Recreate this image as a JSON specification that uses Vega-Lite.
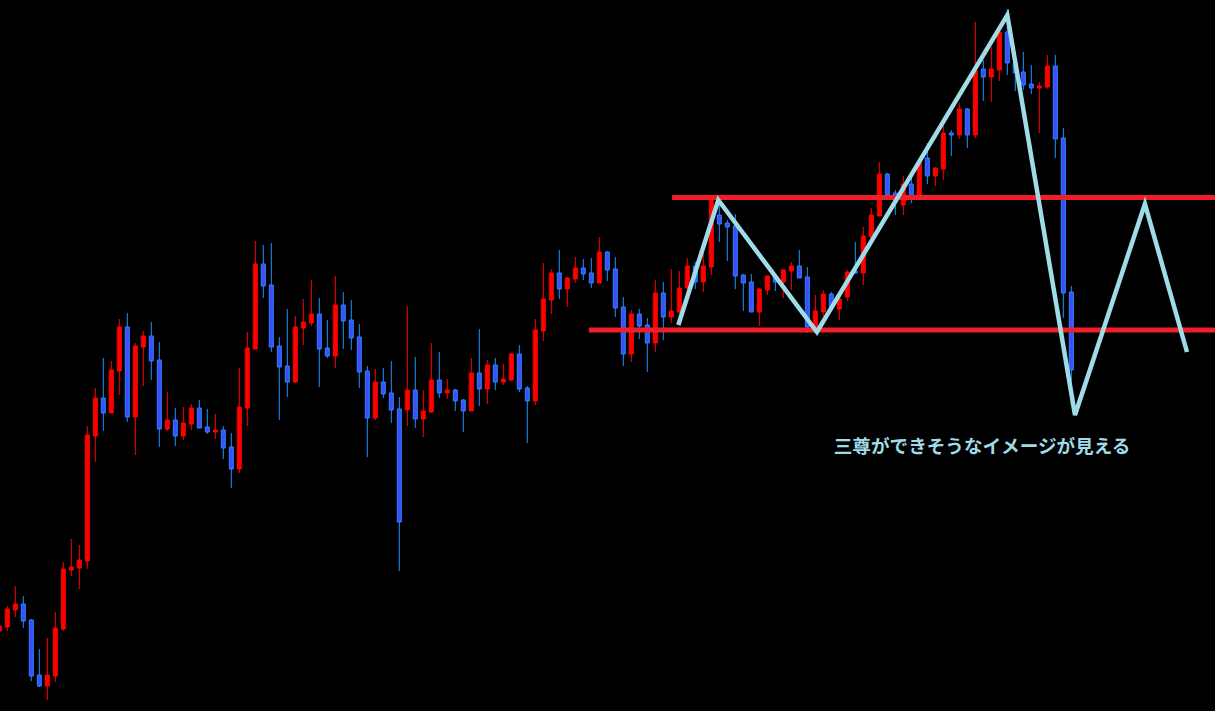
{
  "$schema": "https://vega.github.io/schema/vega-lite/v6.json",
  "width": 1215,
  "height": 711,
  "autosize": {"type": "none"},
  "padding": 0,
  "background": "#000000",
  "config": {"view": {"stroke": null}, "scale": {"continuousPadding": 0}},
  "datasets": {
    "candles": [
      {"i":0,"o":100.80,"h":100.89,"l":100.78,"c":100.85},
      {"i":1,"o":100.84,"h":101.05,"l":100.80,"c":101.02},
      {"i":2,"o":101.01,"h":101.25,"l":100.94,"c":101.07},
      {"i":3,"o":101.07,"h":101.15,"l":100.83,"c":100.90},
      {"i":4,"o":100.91,"h":100.92,"l":100.30,"c":100.35},
      {"i":5,"o":100.36,"h":100.62,"l":100.24,"c":100.25},
      {"i":6,"o":100.25,"h":100.73,"l":100.11,"c":100.36},
      {"i":7,"o":100.35,"h":100.99,"l":100.29,"c":100.83},
      {"i":8,"o":100.82,"h":101.49,"l":100.80,"c":101.42},
      {"i":9,"o":101.41,"h":101.72,"l":101.35,"c":101.44},
      {"i":10,"o":101.43,"h":101.66,"l":101.22,"c":101.51},
      {"i":11,"o":101.50,"h":102.85,"l":101.42,"c":102.76},
      {"i":12,"o":102.75,"h":103.23,"l":102.49,"c":103.13},
      {"i":13,"o":103.13,"h":103.53,"l":102.80,"c":102.98},
      {"i":14,"o":102.98,"h":103.50,"l":102.98,"c":103.41},
      {"i":15,"o":103.40,"h":103.92,"l":103.16,"c":103.84},
      {"i":16,"o":103.84,"h":103.98,"l":102.89,"c":102.94},
      {"i":17,"o":102.94,"h":103.68,"l":102.56,"c":103.65},
      {"i":18,"o":103.64,"h":103.80,"l":103.25,"c":103.75},
      {"i":19,"o":103.75,"h":103.89,"l":103.31,"c":103.50},
      {"i":20,"o":103.51,"h":103.69,"l":102.64,"c":102.82},
      {"i":21,"o":102.82,"h":103.19,"l":102.80,"c":102.91},
      {"i":22,"o":102.91,"h":103.03,"l":102.65,"c":102.75},
      {"i":23,"o":102.75,"h":103.04,"l":102.71,"c":102.88},
      {"i":24,"o":102.87,"h":103.07,"l":102.81,"c":103.03},
      {"i":25,"o":103.03,"h":103.11,"l":102.83,"c":102.83},
      {"i":26,"o":102.84,"h":103.02,"l":102.77,"c":102.79},
      {"i":27,"o":102.79,"h":102.97,"l":102.72,"c":102.81},
      {"i":28,"o":102.81,"h":102.85,"l":102.52,"c":102.63},
      {"i":29,"o":102.64,"h":102.78,"l":102.23,"c":102.42},
      {"i":30,"o":102.42,"h":103.43,"l":102.38,"c":103.04},
      {"i":31,"o":103.03,"h":103.79,"l":102.85,"c":103.63},
      {"i":32,"o":103.62,"h":104.70,"l":103.62,"c":104.47},
      {"i":33,"o":104.47,"h":104.66,"l":104.13,"c":104.25},
      {"i":34,"o":104.26,"h":104.68,"l":103.59,"c":103.64},
      {"i":35,"o":103.65,"h":103.74,"l":102.91,"c":103.44},
      {"i":36,"o":103.45,"h":104.02,"l":103.14,"c":103.29},
      {"i":37,"o":103.29,"h":103.95,"l":103.28,"c":103.84},
      {"i":38,"o":103.83,"h":104.12,"l":103.66,"c":103.89},
      {"i":39,"o":103.88,"h":104.31,"l":103.85,"c":103.97},
      {"i":40,"o":103.97,"h":104.13,"l":103.24,"c":103.62},
      {"i":41,"o":103.63,"h":103.91,"l":103.53,"c":103.55},
      {"i":42,"o":103.55,"h":104.35,"l":103.43,"c":104.06},
      {"i":43,"o":104.06,"h":104.19,"l":103.62,"c":103.90},
      {"i":44,"o":103.91,"h":104.11,"l":103.61,"c":103.73},
      {"i":45,"o":103.74,"h":103.87,"l":103.23,"c":103.39},
      {"i":46,"o":103.40,"h":103.45,"l":102.54,"c":102.93},
      {"i":47,"o":102.93,"h":103.42,"l":102.91,"c":103.29},
      {"i":48,"o":103.29,"h":103.43,"l":103.13,"c":103.17},
      {"i":49,"o":103.18,"h":103.50,"l":102.88,"c":103.01},
      {"i":50,"o":103.02,"h":103.14,"l":101.40,"c":101.89},
      {"i":51,"o":103.01,"h":104.05,"l":102.85,"c":103.21},
      {"i":52,"o":103.21,"h":103.54,"l":102.83,"c":102.92},
      {"i":53,"o":102.92,"h":103.21,"l":102.74,"c":103.00},
      {"i":54,"o":102.99,"h":103.68,"l":102.98,"c":103.31},
      {"i":55,"o":103.31,"h":103.59,"l":103.13,"c":103.18},
      {"i":56,"o":103.18,"h":103.32,"l":103.12,"c":103.21},
      {"i":57,"o":103.21,"h":103.22,"l":103.00,"c":103.10},
      {"i":58,"o":103.11,"h":103.12,"l":102.79,"c":103.00},
      {"i":59,"o":103.00,"h":103.53,"l":103.00,"c":103.38},
      {"i":60,"o":103.38,"h":103.82,"l":103.05,"c":103.22},
      {"i":61,"o":103.22,"h":103.51,"l":103.07,"c":103.46},
      {"i":62,"o":103.46,"h":103.53,"l":103.21,"c":103.29},
      {"i":63,"o":103.29,"h":103.47,"l":103.26,"c":103.32},
      {"i":64,"o":103.31,"h":103.58,"l":103.30,"c":103.57},
      {"i":65,"o":103.57,"h":103.66,"l":103.19,"c":103.22},
      {"i":66,"o":103.23,"h":103.25,"l":102.68,"c":103.10},
      {"i":67,"o":103.10,"h":103.92,"l":103.06,"c":103.81},
      {"i":68,"o":103.80,"h":104.48,"l":103.70,"c":104.12},
      {"i":69,"o":104.11,"h":104.42,"l":103.97,"c":104.38},
      {"i":70,"o":104.38,"h":104.61,"l":104.12,"c":104.22},
      {"i":71,"o":104.22,"h":104.34,"l":104.04,"c":104.33},
      {"i":72,"o":104.32,"h":104.54,"l":104.28,"c":104.43},
      {"i":73,"o":104.43,"h":104.52,"l":104.31,"c":104.37},
      {"i":74,"o":104.38,"h":104.53,"l":104.23,"c":104.28},
      {"i":75,"o":104.28,"h":104.74,"l":104.28,"c":104.59},
      {"i":76,"o":104.59,"h":104.60,"l":104.30,"c":104.41},
      {"i":77,"o":104.42,"h":104.54,"l":103.94,"c":104.03},
      {"i":78,"o":104.04,"h":104.14,"l":103.45,"c":103.57},
      {"i":79,"o":103.57,"h":104.01,"l":103.49,"c":103.97},
      {"i":80,"o":103.97,"h":104.02,"l":103.72,"c":103.85},
      {"i":81,"o":103.86,"h":103.93,"l":103.39,"c":103.68},
      {"i":82,"o":103.68,"h":104.31,"l":103.59,"c":104.18},
      {"i":83,"o":104.18,"h":104.29,"l":103.71,"c":103.94},
      {"i":84,"o":103.94,"h":104.42,"l":103.88,"c":104.00},
      {"i":85,"o":103.99,"h":104.40,"l":103.97,"c":104.23},
      {"i":86,"o":104.23,"h":104.53,"l":104.16,"c":104.45},
      {"i":87,"o":104.45,"h":104.49,"l":104.22,"c":104.29},
      {"i":88,"o":104.29,"h":104.59,"l":104.19,"c":104.45},
      {"i":89,"o":104.44,"h":105.13,"l":104.36,"c":105.11},
      {"i":90,"o":104.96,"h":105.11,"l":104.69,"c":104.87},
      {"i":91,"o":104.88,"h":104.91,"l":104.50,"c":104.84},
      {"i":92,"o":104.85,"h":104.97,"l":104.22,"c":104.35},
      {"i":93,"o":104.36,"h":104.37,"l":104.00,"c":104.28},
      {"i":94,"o":104.29,"h":104.37,"l":103.99,"c":103.99},
      {"i":95,"o":103.99,"h":104.23,"l":103.85,"c":104.22},
      {"i":96,"o":104.21,"h":104.35,"l":104.16,"c":104.35},
      {"i":97,"o":104.35,"h":104.37,"l":104.20,"c":104.29},
      {"i":98,"o":104.29,"h":104.42,"l":104.13,"c":104.41},
      {"i":99,"o":104.40,"h":104.49,"l":104.21,"c":104.45},
      {"i":100,"o":104.45,"h":104.61,"l":104.33,"c":104.33},
      {"i":101,"o":104.34,"h":104.44,"l":103.78,"c":103.84},
      {"i":102,"o":103.84,"h":104.16,"l":103.78,"c":104.00},
      {"i":103,"o":103.99,"h":104.21,"l":103.95,"c":104.17},
      {"i":104,"o":104.17,"h":104.19,"l":104.01,"c":104.04},
      {"i":105,"o":104.02,"h":104.15,"l":103.91,"c":104.12},
      {"i":106,"o":104.14,"h":104.41,"l":104.10,"c":104.39},
      {"i":107,"o":104.40,"h":104.69,"l":104.37,"c":104.38},
      {"i":108,"o":104.38,"h":104.84,"l":104.26,"c":104.75},
      {"i":109,"o":104.74,"h":105.03,"l":104.71,"c":104.96},
      {"i":110,"o":104.95,"h":105.49,"l":104.95,"c":105.37},
      {"i":111,"o":105.37,"h":105.38,"l":105.11,"c":105.16},
      {"i":112,"o":105.18,"h":105.21,"l":104.96,"c":105.11},
      {"i":113,"o":105.06,"h":105.35,"l":104.96,"c":105.27},
      {"i":114,"o":105.27,"h":105.33,"l":105.08,"c":105.14},
      {"i":115,"o":105.14,"h":105.53,"l":105.11,"c":105.48},
      {"i":116,"o":105.53,"h":105.68,"l":105.27,"c":105.35},
      {"i":117,"o":105.35,"h":105.44,"l":105.25,"c":105.43},
      {"i":118,"o":105.42,"h":105.85,"l":105.31,"c":105.78},
      {"i":119,"o":105.78,"h":105.81,"l":105.55,"c":105.76},
      {"i":120,"o":105.76,"h":106.08,"l":105.72,"c":106.02},
      {"i":121,"o":106.02,"h":106.03,"l":105.63,"c":105.76},
      {"i":122,"o":105.76,"h":106.89,"l":105.73,"c":106.40},
      {"i":123,"o":106.42,"h":106.51,"l":106.10,"c":106.34},
      {"i":124,"o":106.34,"h":106.64,"l":106.09,"c":106.42},
      {"i":125,"o":106.41,"h":106.81,"l":106.30,"c":106.79},
      {"i":126,"o":106.79,"h":107.02,"l":106.36,"c":106.48},
      {"i":127,"o":106.48,"h":106.53,"l":106.20,"c":106.38},
      {"i":128,"o":106.39,"h":106.59,"l":106.21,"c":106.26},
      {"i":129,"o":106.27,"h":106.46,"l":106.17,"c":106.23},
      {"i":130,"o":106.23,"h":106.29,"l":105.78,"c":106.25},
      {"i":131,"o":106.24,"h":106.56,"l":106.22,"c":106.45},
      {"i":132,"o":106.45,"h":106.56,"l":105.53,"c":105.72},
      {"i":133,"o":105.73,"h":105.83,"l":103.93,"c":104.18},
      {"i":134,"o":104.19,"h":104.25,"l":103.06,"c":103.41}
    ],
    "levels": [
      {"from": 73.7, "to": 152, "price": 103.81},
      {"from": 84.1, "to": 152, "price": 105.135}
    ],
    "zigzag": [
      {"n": 1, "i": 84.875, "price": 103.86},
      {"n": 2, "i": 89.875, "price": 105.11},
      {"n": 3, "i": 102.2, "price": 103.79},
      {"n": 4, "i": 126.0, "price": 106.96},
      {"n": 5, "i": 134.46, "price": 102.96},
      {"n": 6, "i": 143.2, "price": 105.07},
      {"n": 7, "i": 148.46, "price": 103.59}
    ],
    "note": [
      {"i": 122.84, "price": 102.64, "text": "三尊ができそうなイメージが見える"}
    ]
  },
  "layer": [
    {
      "data": {"name": "candles"},
      "mark": {"type": "rule", "strokeWidth": 1},
      "encoding": {
        "x": {"field": "i", "type": "quantitative", "scale": {"domain": [0.0875, 151.96], "nice": false, "zero": false, "padding": 0}, "axis": null},
        "y": {"field": "l", "type": "quantitative", "scale": {"domain": [100, 107.11], "nice": false, "zero": false, "padding": 0}, "axis": null},
        "y2": {"field": "h"},
        "color": {"condition": {"test": "datum.c >= datum.o", "value": "#ff0000"}, "value": "#1e90ff"}
      }
    },
    {
      "data": {"name": "candles"},
      "mark": {"type": "bar", "size": 4, "strokeWidth": 1},
      "encoding": {
        "x": {"field": "i", "type": "quantitative", "scale": {"domain": [0.0875, 151.96], "nice": false, "zero": false, "padding": 0}, "axis": null},
        "y": {"field": "o", "type": "quantitative", "scale": {"domain": [100, 107.11], "nice": false, "zero": false, "padding": 0}, "axis": null},
        "y2": {"field": "c"},
        "fill": {"condition": {"test": "datum.c >= datum.o", "value": "#ff0000"}, "value": "#3f4bff"},
        "stroke": {"condition": {"test": "datum.c >= datum.o", "value": "#ff0000"}, "value": "#2a86ff"}
      }
    },
    {
      "data": {"name": "levels"},
      "mark": {"type": "rule", "strokeWidth": 5, "color": "#f01e28"},
      "encoding": {
        "x": {"field": "from", "type": "quantitative", "scale": {"domain": [0.0875, 151.96], "nice": false, "zero": false, "padding": 0}, "axis": null},
        "x2": {"field": "to"},
        "y": {"field": "price", "type": "quantitative", "scale": {"domain": [100, 107.11], "nice": false, "zero": false, "padding": 0}, "axis": null}
      }
    },
    {
      "data": {"name": "zigzag"},
      "mark": {"type": "line", "strokeWidth": 4.5, "color": "#a0dbe8", "strokeJoin": "miter"},
      "encoding": {
        "x": {"field": "i", "type": "quantitative", "scale": {"domain": [0.0875, 151.96], "nice": false, "zero": false, "padding": 0}, "axis": null},
        "y": {"field": "price", "type": "quantitative", "scale": {"domain": [100, 107.11], "nice": false, "zero": false, "padding": 0}, "axis": null},
        "order": {"field": "n"}
      }
    },
    {
      "data": {"name": "note"},
      "mark": {"type": "text", "fontSize": 18.6, "fontWeight": "bold", "font": "Noto Sans CJK JP", "color": "#a0dbe8", "align": "center", "baseline": "middle"},
      "encoding": {
        "x": {"field": "i", "type": "quantitative", "scale": {"domain": [0.0875, 151.96], "nice": false, "zero": false, "padding": 0}, "axis": null},
        "y": {"field": "price", "type": "quantitative", "scale": {"domain": [100, 107.11], "nice": false, "zero": false, "padding": 0}, "axis": null},
        "text": {"field": "text"}
      }
    }
  ]
}
